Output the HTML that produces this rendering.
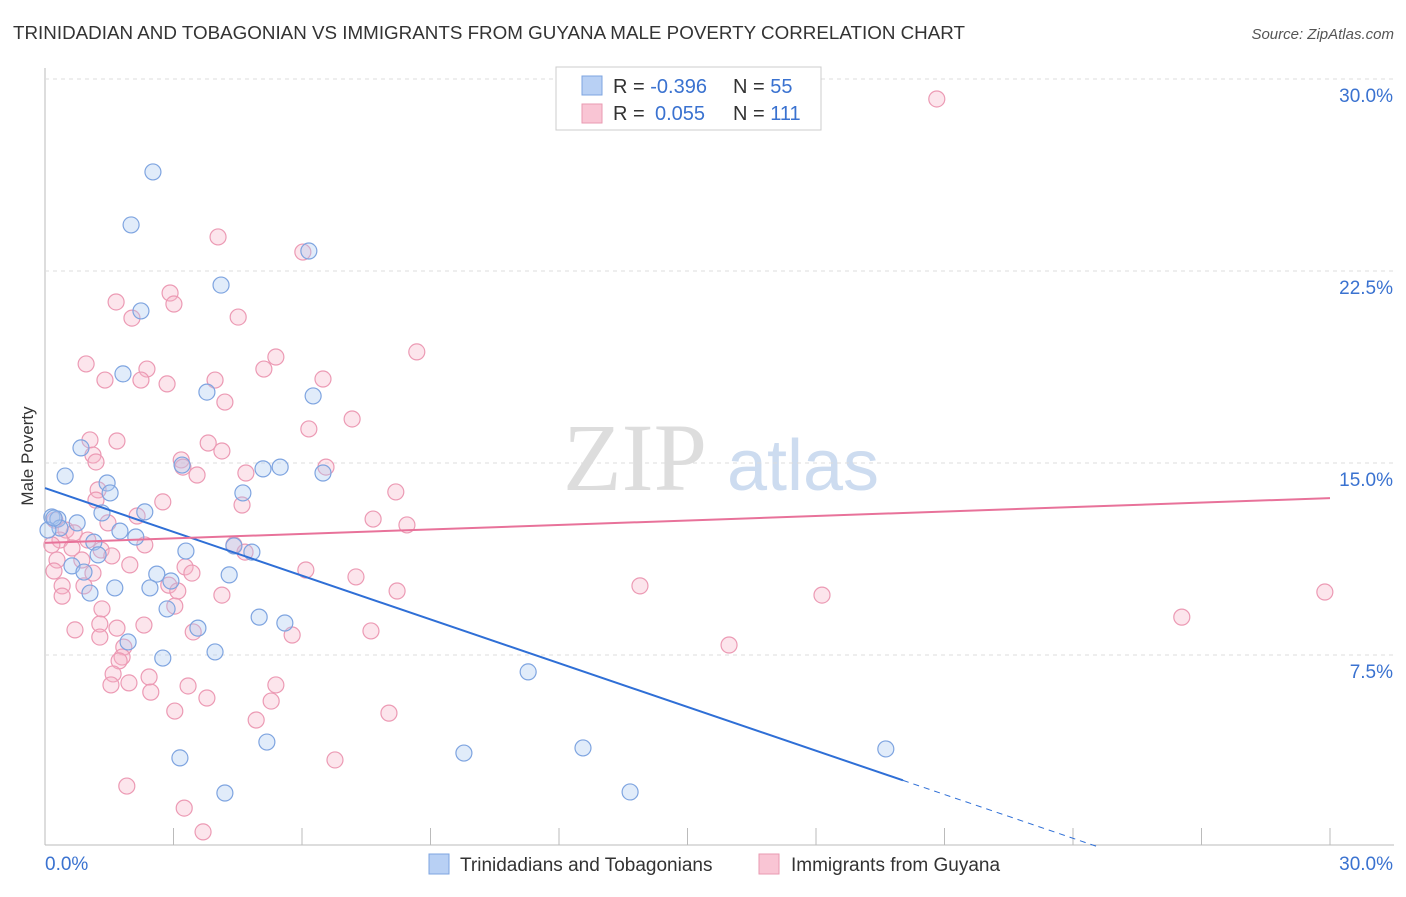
<!DOCTYPE html>
<html><head><meta charset="utf-8"><style>
body{margin:0;background:#fff;width:1406px;height:892px;overflow:hidden;font-family:"Liberation Sans",sans-serif}
</style></head><body>
<svg id="c" width="1406" height="892" xmlns="http://www.w3.org/2000/svg">
<text x="13" y="39" font-size="18" fill="#333" textLength="952" lengthAdjust="spacingAndGlyphs">TRINIDADIAN AND TOBAGONIAN VS IMMIGRANTS FROM GUYANA MALE POVERTY CORRELATION CHART</text>
<text x="1394" y="39" font-size="15" fill="#555" font-style="italic" text-anchor="end">Source: ZipAtlas.com</text>
<text x="33" y="456" font-size="17" fill="#333" text-anchor="middle" transform="rotate(-90 33 456)">Male Poverty</text>
<g><text x="635" y="490" font-size="96" fill="#ddd" font-family="Liberation Serif" text-anchor="middle">ZIP</text><text x="803" y="490" font-size="72" fill="#cddcf0" text-anchor="middle">atlas</text></g>
<g id="grid"></g><g id="pts"></g><g id="lines"></g>
<g>
<rect x="556" y="67" width="265" height="63" fill="#fff" stroke="#ccc"/>
<rect x="582" y="76" width="20" height="19" fill="#b8d0f4" stroke="#7ea4e0"/>
<rect x="582" y="104" width="20" height="19" fill="#f9c5d4" stroke="#e99ab2"/>
<text x="613" y="93" font-size="20" fill="#333">R = <tspan fill="#3a72d0">-0.396</tspan><tspan x="733">N = </tspan><tspan fill="#3a72d0">55</tspan></text>
<text x="613" y="120" font-size="20" fill="#333">R = <tspan x="655" fill="#3a72d0">0.055</tspan><tspan x="733">N = </tspan><tspan fill="#3a72d0">111</tspan></text>
</g>
<g>
<rect x="429" y="854" width="20" height="20" fill="#b8d0f4" stroke="#7ea4e0"/>
<text x="460" y="871" font-size="19" fill="#333">Trinidadians and Tobagonians</text>
<rect x="759" y="854" width="20" height="20" fill="#f9c5d4" stroke="#e99ab2"/>
<text x="791" y="871" font-size="19" fill="#333">Immigrants from Guyana</text>
</g>
</svg>
<script>
const yTicks=[30,22.5,15,7.5];
const yTickLabels=["30.0%","22.5%","15.0%","7.5%"];
const xTicks=[0,3,6,9,12,15,18,21,24,27,30];
const blueX=[2.52,2.01,6.16,4.11,2.24,1.82,3.78,6.26,0.84,0.47,1.45,1.52,3.20,5.09,5.49,6.49,4.62,2.33,1.33,0.16,0.30,0.75,1.75,0.35,0.07,2.12,1.14,1.24,3.29,4.41,4.83,0.63,0.91,2.61,4.30,2.94,1.63,2.45,1.05,2.85,3.57,5.00,5.60,1.94,3.97,2.75,11.28,5.18,3.15,9.78,12.56,19.63,4.20,13.66,0.21];
const blueY=[26.37,24.30,23.28,21.95,20.94,18.48,17.77,17.62,15.59,14.49,14.22,13.83,14.92,14.77,14.84,14.61,13.83,13.09,13.05,12.89,12.81,12.66,12.34,12.46,12.38,12.11,11.91,11.41,11.56,11.76,11.52,10.98,10.74,10.66,10.63,10.39,10.12,10.12,9.92,9.30,8.55,8.98,8.75,8.01,7.62,7.38,6.84,4.10,3.48,3.67,3.87,3.83,2.11,2.15,12.85];
const pinkX=[20.82,4.04,6.02,2.92,1.66,3.01,2.03,4.51,0.96,2.38,5.39,8.68,1.40,2.24,2.85,3.97,5.11,6.49,4.20,7.17,6.16,1.05,1.68,3.81,4.13,1.12,1.19,3.18,3.22,3.55,4.69,6.56,1.24,1.19,2.75,4.60,8.19,7.66,8.45,0.23,0.49,1.47,2.15,0.68,0.35,1.00,0.16,0.63,1.31,2.33,4.41,4.67,0.28,0.86,1.56,0.21,1.12,1.98,3.27,3.43,6.09,7.26,0.40,0.91,2.89,3.10,4.13,8.22,13.89,18.14,26.54,29.88,0.40,1.33,3.03,1.28,0.70,2.31,1.68,3.46,5.77,7.61,15.97,1.28,1.84,1.80,1.73,1.59,2.43,1.54,1.96,2.47,3.34,3.78,5.39,5.28,3.03,4.93,8.03,6.77,1.91,3.25,3.69];
const pinkY=[29.22,23.83,23.24,21.64,21.29,21.21,20.66,20.70,18.87,18.67,19.14,19.34,18.24,18.24,18.09,18.24,18.67,18.28,17.38,16.72,16.33,15.90,15.86,15.78,15.47,15.31,15.04,15.12,14.84,14.53,14.61,14.84,13.95,13.55,13.48,13.36,13.87,12.81,12.58,12.77,12.38,12.66,12.93,12.27,11.99,11.99,11.80,11.68,11.60,11.80,11.80,11.52,11.21,11.21,11.37,10.78,10.70,11.02,10.94,10.70,10.82,10.55,10.20,10.20,10.23,10.00,9.84,10.00,10.20,9.84,8.98,9.96,9.80,9.30,9.41,8.71,8.48,8.67,8.55,8.40,8.28,8.44,7.89,8.20,7.81,7.42,7.27,6.76,6.64,6.33,6.41,6.05,6.29,5.82,6.33,5.70,5.31,4.96,5.23,3.40,2.38,1.52,0.59];
const blueTrend=[14.02,-0.57];
const pinkTrend=[11.88,0.0583];
const NS="http://www.w3.org/2000/svg";
const X=v=>45+v*1285/30, Y=v=>847-v*25.6;
function mk(t,a,p){const e=document.createElementNS(NS,t);for(const k in a)e.setAttribute(k,a[k]);document.getElementById(p).appendChild(e);return e;}
let ax=mk('line',{x1:45,y1:68,x2:45,y2:845,stroke:'#bbb'},'grid');

let bx=mk('line',{x1:45,y1:845,x2:1394,y2:845,stroke:'#bbb'},'grid');

yTicks.forEach((t,i)=>{
 let g=mk('line',{x1:45,x2:1394,y1:Y(t),y2:Y(t),stroke:'#ddd','stroke-dasharray':'4,4'},'grid');
 
 let l=mk('text',{x:1393,y:Y(t)+23,'font-size':19,fill:'#3a72d0','text-anchor':'end'},'grid');l.textContent=yTickLabels[i];
 
});
xTicks.forEach(t=>{let k=mk('line',{x1:X(t),x2:X(t),y1:828,y2:845,stroke:'#bbb'},'grid');
 });
let xl=mk('text',{x:45,y:870,'font-size':19,fill:'#3a72d0'},'grid');xl.textContent='0.0%';

let xr=mk('text',{x:1393,y:870,'font-size':19,fill:'#3a72d0','text-anchor':'end'},'grid');xr.textContent='30.0%';

pinkX.forEach((x,i)=>{let c=mk('circle',{cx:X(x),cy:Y(pinkY[i]),r:8,fill:'rgba(247,180,200,0.35)',stroke:'#ec9ab4','stroke-width':1.2},'pts');
 });
blueX.forEach((x,i)=>{let c=mk('circle',{cx:X(x),cy:Y(blueY[i]),r:8,fill:'rgba(170,200,240,0.35)',stroke:'#7ea4e0','stroke-width':1.2},'pts');
 });
const bEnd=20.03, bZero=-blueTrend[0]/blueTrend[1];
let bl=mk('line',{x1:X(0),y1:Y(blueTrend[0]),x2:X(bEnd),y2:Y(blueTrend[0]+blueTrend[1]*bEnd),stroke:'#2f6fd6','stroke-width':2},'lines');

let bd=mk('line',{x1:X(bEnd),y1:Y(blueTrend[0]+blueTrend[1]*bEnd),x2:X(bZero),y2:Y(0),stroke:'#2f6fd6','stroke-width':1,'stroke-dasharray':'6,5'},'lines');

let pl=mk('line',{x1:X(0),y1:Y(pinkTrend[0]),x2:X(30),y2:Y(pinkTrend[0]+pinkTrend[1]*30),stroke:'#e8729a','stroke-width':2},'lines');

</script>
</body></html>
